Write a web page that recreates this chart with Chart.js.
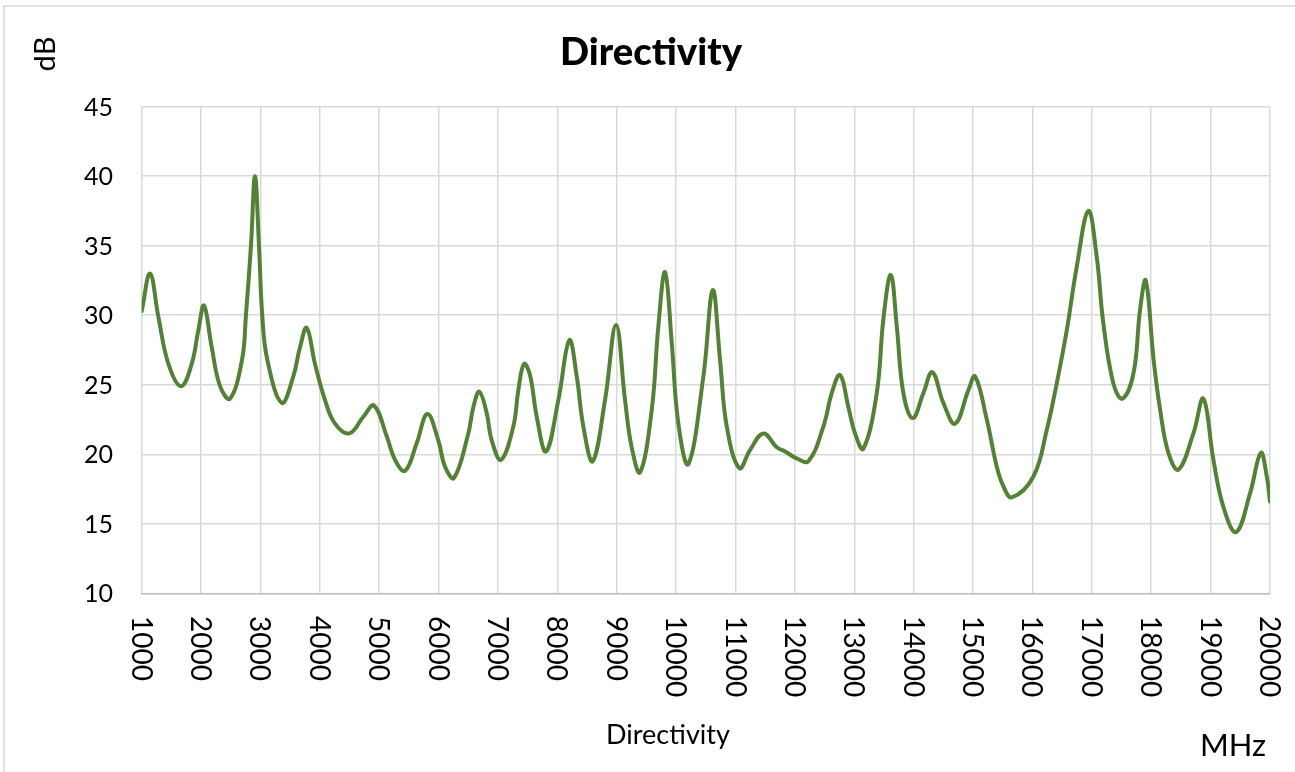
<!DOCTYPE html>
<html>
<head>
<meta charset="utf-8">
<script src="https://cdn.jsdelivr.net/npm/chart.js@4.4.0/dist/chart.umd.min.js"></script>
<style>
  html, body { margin: 0; padding: 0; background: #ffffff; }
  #wrap { width: 1295px; height: 772px; position: relative; }
</style>
</head>
<body>
<div id="wrap"><canvas id="c" width="1295" height="772"></canvas></div>
<script>
// ---- data ----
const freqs = [1000,1140,1280,1450,1662,1842,1953,2049,2179,2319,2487,2690,2755,2840,2908,2975,3030,3115,3358,3553,3666,3779,3918,4087,4255,4496,4732,4912,5126,5266,5434,5631,5810,5995,6108,6259,6500,6585,6686,6810,6894,7051,7258,7342,7438,7539,7652,7809,8016,8201,8326,8437,8595,8802,8988,9139,9251,9392,9589,9700,9813,9926,10037,10205,10458,10616,10739,10852,11064,11244,11468,11694,11834,12030,12226,12479,12620,12760,12900,13012,13152,13378,13489,13614,13715,13826,13984,14163,14314,14499,14697,14921,15033,15231,15399,15510,15651,16016,16241,16409,16577,16746,16941,17082,17194,17362,17514,17700,17812,17908,18040,18150,18289,18458,18710,18878,19047,19216,19429,19665,19845,19946,20000];
const directivity = [30.3,33.0,29.9,26.5,24.9,26.5,28.9,30.7,27.7,24.9,24.0,26.8,30.0,35.0,40.0,35.0,30.0,26.8,23.7,25.6,27.7,29.1,26.5,23.9,22.2,21.5,22.7,23.5,21.3,19.6,18.8,20.8,22.9,21.0,19.1,18.3,21.5,23.4,24.5,22.95,21.0,19.6,22.0,24.6,26.5,25.7,22.7,20.2,23.9,28.2,25.6,22.0,19.5,23.9,29.3,23.9,20.5,18.7,23.2,29.2,33.1,28.0,22.2,19.3,25.6,31.8,26.8,22.0,19.0,20.3,21.5,20.5,20.2,19.7,19.5,22.0,24.4,25.7,23.4,21.5,20.4,24.4,29.7,32.9,29.2,24.4,22.6,24.4,25.9,23.7,22.2,24.6,25.6,22.5,19.1,17.7,16.9,18.4,21.75,25.1,28.9,33.5,37.5,34.2,29.4,25.1,24.0,25.8,30.4,32.5,26.8,23.2,20.1,18.9,21.5,24.0,19.6,16.2,14.4,17.2,20.1,18.4,16.6];
const xMin = 1000, xMax = 20000, xStep = 1000;
const yMin = 10, yMax = 45, yStep = 5;
const titleText = "Directivity";
const xTitleText = "Directivity";
const yUnitText = "dB";
const xUnitText = "MHz";

const FONT = "Lato, 'Open Sans', sans-serif";

const textPlugin = {
  id: 'textPlugin',
  beforeDraw(chart) {
    const ctx = chart.ctx;
    ctx.save();
    ctx.strokeStyle = '#d9d9d9';
    ctx.lineWidth = 1.5;
    ctx.strokeRect(4, 6, 1400, 900);
    ctx.restore();
  },
  afterDraw(chart) {
    const ctx = chart.ctx;
    const xs = chart.scales.x, ys = chart.scales.y;
    ctx.save();
    ctx.fillStyle = '#000000';

    // y tick labels
    ctx.font = "25px " + FONT;
    ctx.textAlign = 'right';
    ctx.textBaseline = 'alphabetic';
    ys.ticks.forEach(t => {
      const py = ys.getPixelForValue(t.value);
      ctx.fillText(String(t.value), 113, py + 9);
    });

    // x tick labels rotated clockwise
    ctx.font = "28px " + FONT;
    xs.ticks.forEach(t => {
      const px = xs.getPixelForValue(t.value);
      ctx.save();
      ctx.translate(px, 616);
      ctx.rotate(Math.PI / 2);
      ctx.textAlign = 'left';
      ctx.textBaseline = 'alphabetic';
      ctx.fillText(String(t.value), 0, 10);
      ctx.restore();
    });

    // title
    let fs = 40;
    ctx.font = "900 " + fs + "px " + FONT;
    const w = ctx.measureText(titleText).width;
    fs = fs * 182 / w;
    ctx.font = "900 " + fs.toFixed(1) + "px " + FONT;
    ctx.textAlign = 'center';
    ctx.fillText(titleText, 651, 65);

    // x axis title
    ctx.font = "27px " + FONT;
    ctx.fillText(xTitleText, 668, 744);

    // MHz unit
    ctx.font = "31px " + FONT;
    ctx.textAlign = 'right';
    ctx.fillText(xUnitText, 1266, 756);

    // dB unit rotated
    ctx.save();
    ctx.translate(55, 54);
    ctx.rotate(-Math.PI / 2);
    ctx.font = "29px " + FONT;
    ctx.textAlign = 'center';
    ctx.fillText(yUnitText, 0, 0);
    ctx.restore();

    ctx.restore();
  }
};

new Chart(document.getElementById('c'), {
  type: 'line',
  data: {
    datasets: [{
      data: freqs.map((f, i) => ({ x: f, y: directivity[i] })),
      borderColor: '#548235',
      borderWidth: 4,
      pointRadius: 0,
      fill: false,
      tension: 0.4,
      borderJoinStyle: 'round',
      borderCapStyle: 'round'
    }]
  },
  options: {
    responsive: false,
    animation: false,
    devicePixelRatio: 1,
    layout: { padding: { left: 141.7, right: 25, top: 106.7, bottom: 178.7 } },
    plugins: { legend: { display: false }, tooltip: { enabled: false }, title: { display: false } },
    scales: {
      x: {
        type: 'linear', min: xMin, max: xMax,
        ticks: { display: false, stepSize: xStep },
        grid: { color: '#d9d9d9', lineWidth: 1.5, drawTicks: false },
        border: { color: '#bfbfbf', width: 1.5 },
        afterFit(s) { s.height = 0; }
      },
      y: {
        min: yMin, max: yMax,
        ticks: { display: false, stepSize: yStep },
        grid: { color: '#d9d9d9', lineWidth: 1.5, drawTicks: false },
        border: { display: false },
        afterFit(s) { s.width = 0; }
      }
    }
  },
  plugins: [textPlugin]
});
</script>
</body>
</html>
